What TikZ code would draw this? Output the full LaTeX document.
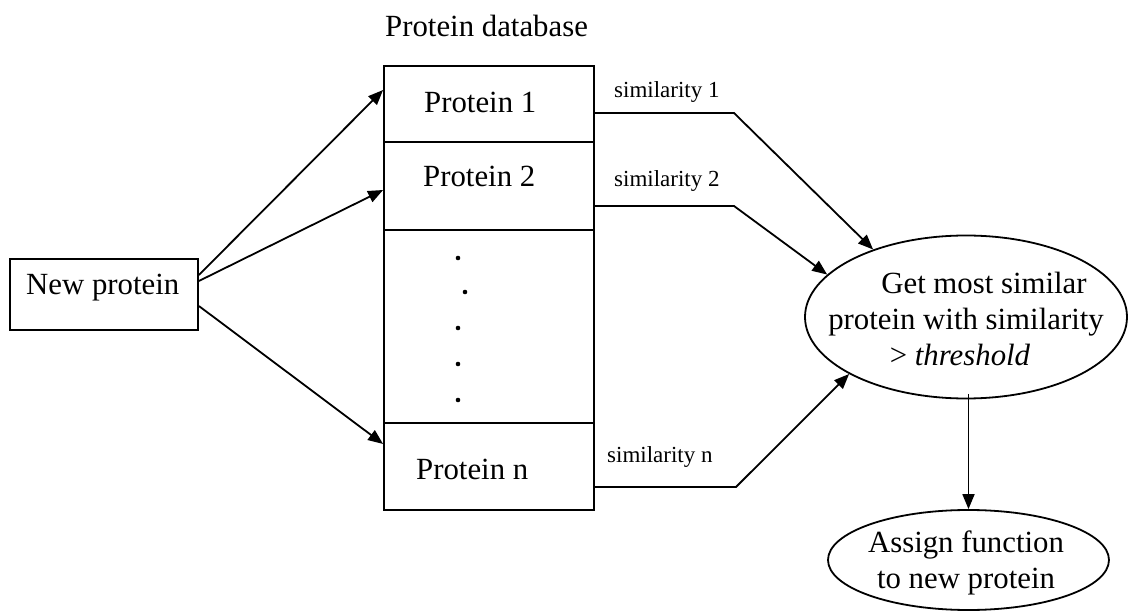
\documentclass[tikz,border=0pt]{standalone}
\usepackage{fontspec}
\setmainfont{Liberation Serif}
\usetikzlibrary{arrows.meta,shapes.geometric}
\tikzset{
  line/.style={line width=1.8pt},
  arr/.style={line width=1.8pt,-{Triangle[length=15pt,width=12pt]}},
  cell/.style={draw,line width=1.8pt,rectangle,inner sep=0pt},
  oval/.style={draw,line width=1.8pt,ellipse,inner sep=0pt},
  big/.style={font=\fontsize{30.8}{36}\selectfont,inner sep=0pt},
  small/.style={font=\fontsize{23}{27}\selectfont,inner sep=0pt},
  dot/.style={circle,fill=black,inner sep=0pt,minimum size=4.6pt}
}
\begin{document}
\begin{tikzpicture}[x=1pt,y=-1pt]
\useasboundingbox (0,0) rectangle (1128,612);
% boxes
\node[cell,minimum width=188pt,minimum height=71pt] (np) at (104,294.5) {};
\node[cell,minimum width=210pt,minimum height=76pt] (p1) at (489,104) {};
\node[cell,minimum width=210pt,minimum height=88pt] (p2) at (489,186) {};
\node[cell,minimum width=210pt,minimum height=193pt] (pd) at (489,326.5) {};
\node[cell,minimum width=210pt,minimum height=87pt] (pn) at (489,466.5) {};
\node[oval,minimum width=322pt,minimum height=163pt] (g) at (966,317) {};
\node[oval,minimum width=281pt,minimum height=100pt] (a) at (968.5,560) {};
% texts
\node[big,anchor=base west] (tdb) at (385,37) {Protein database};
\node[big,anchor=base west] (tnp) at (26,295) {New protein};
\node[big,anchor=base west] (tp1) at (424,113) {Protein 1};
\node[big,anchor=base west] (tp2) at (423,187) {Protein 2};
\node[big,anchor=base west] (tpn) at (416,479) {Protein n};
\node[small,anchor=base west] (s1) at (614,98) {similarity 1};
\node[small,anchor=base west] (s2) at (614,187) {similarity 2};
\node[small,anchor=base west] (sn) at (607,462) {similarity n};
\node[big,align=center] (tg) at (966,319) {\hspace*{36pt}Get most similar\\protein with similarity\\> \textit{threshold}\hspace*{12pt}};
\node[big,align=center] (ta) at (966,563) {Assign function\\to new protein};
% dots
\node[dot] (d1) at (458,258) {};
\node[dot] (d2) at (465,292) {};
\node[dot] (d3) at (458,328) {};
\node[dot] (d4) at (458,364) {};
\node[dot] (d5) at (458,400) {};
% connectors from new protein
\draw[arr] ([yshift=19.5pt]np.east) -- ([yshift=14pt]p1.west);
\draw[arr] ([yshift=13.5pt]np.east) -- ([yshift=-4pt]p2.west);
\draw[arr] ([yshift=-11.5pt]np.east) -- ([yshift=22.5pt]pn.west);
% similarity connectors
\coordinate (k1) at (734,113);
\coordinate (k2) at (734,206);
\coordinate (kn) at (736,487);
\draw[arr] ([yshift=-9pt]p1.east) -- (k1) -- (g.144);
\draw[arr] ([yshift=-20pt]p2.east) -- (k2) -- (g.163);
\draw[arr] ([yshift=-20.5pt]pn.east) -- (kn) -- (g.206);
% down arrow
\draw[arr] ([yshift=5.5pt]g.south -| a.north) -- (a.north);
\end{tikzpicture}
\end{document}
